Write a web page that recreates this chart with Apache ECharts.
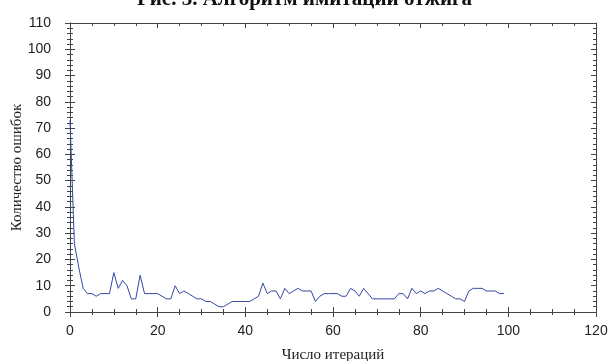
<!DOCTYPE html>
<html>
<head>
<meta charset="utf-8">
<script src="https://cdn.jsdelivr.net/npm/echarts@6/dist/echarts.min.js"></script>
<style>html,body{margin:0;padding:0;background:#fff;}#c{width:609px;height:361px;}</style>
</head>
<body>
<div id="c"></div>
<script>
const titleBold = 'Рис. 3.';
const titleRest = ' Алгоритм имитации отжига';
const xName = 'Число итераций';
const yName = 'Количество ошибок';
const iterations = [];
for (let i = 0; i < 100; i++) iterations.push(i);
const errors = [
  73, 26, 17, 9, 7, 7, 6, 7, 7, 7,
  15, 9, 12, 10, 5, 5, 14, 7, 7, 7,
  7, 6, 5, 5, 10, 7, 8, 7, 6, 5,
  5, 4, 4, 3, 2, 2, 3, 4, 4, 4,
  4, 4, 5, 6, 11, 7, 8, 8, 5, 9,
  7, 8, 9, 8, 8, 8, 4, 6, 7, 7,
  7, 7, 6, 6, 9, 8, 6, 9, 7, 5,
  5, 5, 5, 5, 5, 7, 7, 5, 9, 7,
  8, 7, 8, 8, 9, 8, 7, 6, 5, 5,
  4, 8, 9, 9, 9, 8, 8, 8, 7, 7
];
const xMin = 0, xMax = 120, xStep = 20;
const yMin = 0, yMax = 110, yStep = 10;

const chart = echarts.init(document.getElementById('c'), null, {renderer: 'canvas'});
const axisCol = '#444';
const gridBox = {left: 70, right: 13, top: 23, bottom: 49, outerBoundsMode: 'none', containLabel: false};
function xAx(gridIndex, position, inside, withLabels) {
  return {
    type: 'value', gridIndex, position, min: xMin, max: xMax, interval: xStep,
    axisLine: {show: true, onZero: false, lineStyle: {color: axisCol, width: 1}},
    axisTick: {show: true, inside, length: 5, lineStyle: {color: axisCol}},
    minorTick: {show: true, splitNumber: 4, length: 3, lineStyle: {color: axisCol}},
    splitLine: {show: false},
    axisLabel: {show: withLabels, margin: 12, fontFamily: 'Liberation Sans', fontSize: 14, color: '#222'},
    name: withLabels ? xName : '', nameLocation: 'middle', nameGap: 36, nameMoveOverlap: false,
    nameTextStyle: {fontFamily: 'Liberation Serif', fontSize: 15, color: '#222'}
  };
}
function yAx(gridIndex, position, inside, withLabels) {
  return {
    type: 'value', gridIndex, position, min: yMin, max: yMax, interval: yStep,
    axisLine: {show: true, onZero: false, lineStyle: {color: axisCol, width: 1}},
    axisTick: {show: true, inside, length: 5, lineStyle: {color: axisCol}},
    minorTick: {show: true, splitNumber: 5, length: 3, lineStyle: {color: axisCol}},
    splitLine: {show: false},
    axisLabel: {show: withLabels, margin: 19, fontFamily: 'Liberation Sans', fontSize: 14, color: '#222'},
    name: withLabels ? yName : '', nameLocation: 'middle', nameGap: 45, nameMoveOverlap: false,
    nameTextStyle: {fontFamily: 'Liberation Serif', fontSize: 15, color: '#222'}
  };
}
chart.setOption({
  animation: false,
  title: {
    text: '{b|' + titleBold + '}{n|' + titleRest + '}',
    left: 'center', top: -16,
    textStyle: {
      rich: {
        b: {fontFamily: 'Liberation Serif', fontSize: 21, fontWeight: 'bold', color: '#111'},
        n: {fontFamily: 'Liberation Serif', fontSize: 21, color: '#111'}
      }
    }
  },
  grid: [Object.assign({}, gridBox), Object.assign({}, gridBox)],
  xAxis: [xAx(0, 'bottom', false, true), xAx(0, 'top', true, false), xAx(1, 'bottom', true, false)],
  yAxis: [yAx(0, 'left', false, true), yAx(0, 'right', true, false), yAx(1, 'left', true, false)],
  series: [{
    type: 'line', xAxisIndex: 0, yAxisIndex: 0,
    data: iterations.map((x, i) => [x, errors[i]]),
    showSymbol: false, symbol: 'none',
    lineStyle: {color: '#3347a3', width: 1}
  }]
});
</script>
</body>
</html>
